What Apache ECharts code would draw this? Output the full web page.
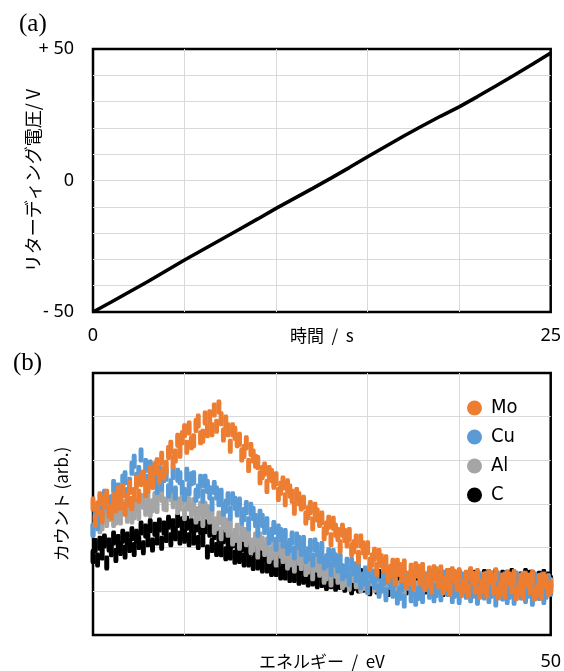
<!DOCTYPE html>
<html><head><meta charset="utf-8">
<script src="https://cdn.jsdelivr.net/npm/echarts@6/dist/echarts.min.js"></script>
<style>html,body{margin:0;padding:0;background:#fff}#c{width:564px;height:671px}</style>
</head><body><div id="c"></div>
<script>
// (a) retarding voltage vs time
const timeS = [0,1,2,3,4,5,6,7,8,9,10,11,12,13,14,15,16,17,18,19,20,21,22,23,24,25];
const voltageV = [-50,-46.2,-42.3,-38.4,-34.3,-30.2,-26.3,-22.4,-18.5,-14.6,-10.6,-6.8,-3,0.9,4.9,9,13,17,20.8,24.5,28,31.9,35.9,40,44.2,48.5];
const voltageTicks = {'-50':'- 50','0':'0','50':'+ 50'};
const timeTicks = {'0':'0','25':'25'};

// (b) counts vs energy, sampled every 0.25 eV from 0 to 50 eV
const energyStart = 0;
const energyStep = 0.25;
const energyTicks = {'50':'50'};
const countsMo = [
300,262,291,312, 271,305,318,284, 279,310,296,325, 302,330,288,309, 338,301,322,350,
318,356,362,331, 340,372,349,381, 390,362,405,371, 384,418,430,396, 410,446,421,452,
468,430,474,440, 445,480,490,452, 455,497,468,500, 470,515,478,522, 495,458,488,470,
432,470,462,445, 448,412,420,440, 388,425,410,398, 395,360,372,380, 340,372,365,350,
358,322,336,348, 310,342,330,318, 290,322,312,300, 304,268,280,292, 255,288,275,262,
268,232,245,258, 218,256,240,230, 202,240,228,215, 230,195,202,215, 178,215,200,190,
200,162,172,185, 150,182,170,158, 168,135,146,160, 128,160,150,136, 158,120,130,148,
118,152,146,128, 150,115,124,142, 110,145,140,122, 144,108,118,136, 105,140,134,116,
138,102,112,132, 100,140,130,110, 136,98,112,128, 100,134,130,108, 138,96,106,126,
98,132,128,110, 134,95,104,126, 96,130,124,108, 132,94,102,125, 96,128,122,104, 110];
const countsCu = [
240,275,255,290, 285,318,305,292, 305,340,318,332, 328,352,360,322, 345,382,398,356,
372,412,360,388, 352,385,378,362, 338,372,345,365, 368,330,342,372, 325,366,360,338,
322,368,335,358, 360,320,330,352, 318,352,340,326, 300,338,325,310, 320,288,295,312,
278,312,302,286, 300,268,276,292, 255,288,278,262, 240,272,262,246, 255,222,230,246,
208,238,230,215, 228,198,205,222, 188,220,212,196, 212,180,186,205, 172,206,196,180,
198,165,170,184, 150,182,172,158, 172,140,146,162, 128,162,152,136, 154,120,128,142,
110,146,135,120, 140,100,112,128, 92,132,120,100, 126,85,95,115, 78,122,118,90,
124,82,95,116, 88,126,120,98, 128,90,102,122, 92,132,124,104, 130,88,100,122,
86,128,120,98, 130,90,100,118, 84,126,122,96, 130,88,100,120, 80,128,118,94,
126,86,98,122, 84,130,118,96, 124,88,100,120, 82,128,116,95, 126,86,98,120, 105];
const countsAl = [
240,265,272,248, 255,280,262,276, 288,262,268,284, 268,294,290,272, 300,270,280,296,
278,308,304,288, 318,285,296,312, 294,325,320,300, 298,330,322,305, 322,292,300,312,
278,308,300,285, 298,270,278,290, 262,290,282,270, 276,246,255,268, 232,262,252,240,
248,220,228,240, 210,238,230,218, 228,200,206,220, 190,220,210,196, 208,180,188,200,
172,200,192,180, 192,165,172,185, 158,186,176,164, 178,150,156,168, 140,168,160,148,
160,132,140,152, 126,154,146,132, 148,120,126,140, 116,142,136,122, 140,112,118,132,
108,136,128,114, 134,106,112,126, 104,132,124,110, 130,102,108,122, 100,128,120,106,
128,102,108,122, 100,130,124,106, 128,104,110,122, 102,132,124,108, 130,100,106,126,
104,128,124,110, 132,102,108,124, 100,130,126,106, 128,104,112,124, 102,130,122,108,
128,100,110,126, 104,130,124,108, 130,102,108,126, 100,128,122,106, 126,104,110,124, 115];
const countsC = [
180,205,172,210, 188,215,165,206, 195,222,182,214, 198,226,190,220, 205,232,196,226,
212,245,200,238, 218,250,206,242, 222,252,210,245, 228,258,218,250, 232,262,222,255,
226,256,218,250, 222,252,212,245, 218,248,190,240, 205,235,196,228, 195,225,186,218,
188,215,178,208, 180,206,172,200, 172,198,164,192, 165,190,158,184, 158,182,150,176,
150,175,142,168, 142,168,136,160, 136,160,130,155, 132,156,126,150, 128,152,122,146,
125,150,118,144, 122,148,116,140, 120,146,114,138, 130,108,118,134, 112,136,114,128,
132,106,120,134, 110,134,116,130, 128,104,118,136, 112,132,114,126, 132,108,116,134,
108,130,120,132, 134,110,114,128, 110,136,118,130, 130,104,120,136, 114,132,112,128,
134,108,118,130, 108,138,116,132, 128,110,120,134, 114,134,110,130, 136,106,118,132,
112,132,116,136, 130,108,114,128, 110,136,120,132, 132,110,116,130, 112,134,118,128, 120];
const seriesNames = ['Mo','Cu','Al','C'];
const seriesColors = {Mo:'#ED7D31', Cu:'#5B9BD5', Al:'#A5A5A5', C:'#000000'};
const seriesCounts = {Mo:countsMo, Cu:countsCu, Al:countsAl, C:countsC};

const toPairs = arr => arr.map((v,i)=>[energyStart + i*energyStep, v]);
const jpFont = "'Noto Sans CJK JP','Noto Sans',sans-serif";
const numFont = "'Noto Sans','DejaVu Sans',sans-serif";
const splitLine = {show:true, showMinLine:false, showMaxLine:false, lineStyle:{color:'#d9d9d9', width:1}};

const chart = echarts.init(document.getElementById('c'), null, {renderer:'canvas'});
const scatterSeries = ['C','Al','Cu','Mo'].map(n=>({
  name:n, type:'scatter', xAxisIndex:1, yAxisIndex:1,
  data: toPairs(seriesCounts[n]), symbol:'roundRect', symbolSize:[5,15],
  itemStyle:{color:seriesColors[n], opacity:1}, emphasis:{disabled:true}
}));

chart.setOption({
  animation:false,
  backgroundColor:'#fff',
  title:[
    {text:'(a)', left:14, top:7, textStyle:{fontFamily:"'Liberation Serif','DejaVu Serif',serif", fontSize:25, fontWeight:'normal', color:'#000'}},
    {text:'(b)', left:8, top:346, textStyle:{fontFamily:"'Liberation Serif','DejaVu Serif',serif", fontSize:25, fontWeight:'normal', color:'#000'}}
  ],
  legend:{
    data:seriesNames.map(n=>({name:n, icon:'circle'})), orient:'vertical', left:462, top:393, itemWidth:15, itemHeight:15, itemGap:9,
    selectedMode:false,
    textStyle:{fontFamily:"'Liberation Sans Narrow','DejaVu Sans Condensed','Roboto Condensed','Liberation Sans',sans-serif", fontSize:20, color:'#000', padding:[0,0,0,4]}
  },
  grid:[
    {left:93, top:49, width:459, height:263, show:true, borderColor:'#000', borderWidth:2.5, backgroundColor:'transparent'},
    {left:93, top:373, width:459, height:264, show:true, borderColor:'#000', borderWidth:2.5, backgroundColor:'transparent'}
  ],
  xAxis:[
    {type:'value', gridIndex:0, min:0, max:25, interval:5,
     axisLine:{show:false}, axisTick:{show:false}, splitLine:splitLine,
     axisLabel:{formatter:v=>timeTicks[String(v)]||'', margin:15, fontSize:18, color:'#000', fontFamily:numFont},
     name:'時間  /  s', nameLocation:'middle', nameGap:15, nameMoveOverlap:false,
     nameTextStyle:{fontSize:17, color:'#000', fontFamily:jpFont, verticalAlign:'top'}},
    {type:'value', gridIndex:1, min:0, max:50, interval:10,
     axisLine:{show:false}, axisTick:{show:false}, splitLine:splitLine,
     axisLabel:{formatter:v=>energyTicks[String(v)]||'', margin:18, fontSize:18, color:'#000', fontFamily:numFont},
     name:'エネルギー  /  eV', nameLocation:'middle', nameGap:18, nameMoveOverlap:false,
     nameTextStyle:{fontSize:17, color:'#000', fontFamily:jpFont, verticalAlign:'top'}}
  ],
  yAxis:[
    {type:'value', gridIndex:0, min:-50, max:50, interval:10,
     axisLine:{show:false}, axisTick:{show:false}, splitLine:splitLine,
     axisLabel:{formatter:v=>voltageTicks[String(v)]||'', margin:19, fontSize:18, color:'#000', fontFamily:numFont},
     name:'リターディング電圧/ V', nameLocation:'middle', nameGap:51, nameRotate:90, nameMoveOverlap:false,
     nameTextStyle:{fontSize:18, color:'#000', fontFamily:jpFont}},
    {type:'value', gridIndex:1, min:0, max:600, interval:100,
     axisLine:{show:false}, axisTick:{show:false}, splitLine:splitLine,
     axisLabel:{show:false},
     name:'カウント (arb.)', nameLocation:'middle', nameGap:23, nameRotate:90, nameMoveOverlap:false,
     nameTextStyle:{fontSize:17, color:'#000', fontFamily:jpFont}}
  ],
  series:[
    {name:'voltage', type:'line', xAxisIndex:0, yAxisIndex:0,
     data: timeS.map((t,i)=>[t, voltageV[i]]), showSymbol:false, symbol:'none',
     lineStyle:{color:'#000', width:3.5}, emphasis:{disabled:true}, z:3}
  ].concat(scatterSeries)
});
</script></body></html>
